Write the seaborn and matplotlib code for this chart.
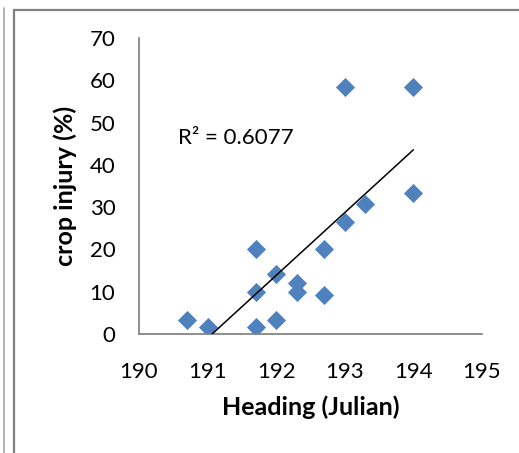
import numpy as np
import pandas as pd
import seaborn as sns
import matplotlib.pyplot as plt
from matplotlib.lines import Line2D

heading = [190.7, 191.0, 191.7, 191.7, 191.7, 192.0, 192.0, 192.3, 192.3,
           192.7, 192.7, 193.0, 193.3, 193.0, 194.0, 194.0]
injury = [3.3, 1.7, 20.0, 10.0, 1.7, 14.3, 3.3, 12.0, 10.0,
          20.0, 9.2, 26.4, 30.7, 58.3, 58.3, 33.3]
x_ticks = [190, 191, 192, 193, 194, 195]
y_ticks = [0, 10, 20, 30, 40, 50, 60, 70]
r2_label = "R² = 0.6077"

df = pd.DataFrame({"heading": heading, "injury": injury})

sns.set_theme(style="white")
plt.rcParams["font.family"] = ["Lato", "DejaVu Sans"]

W, H = 519, 453
fig = plt.figure(figsize=(W / 100, H / 100), dpi=100)
ax = fig.add_axes([139 / W, (H - 334) / H, (482 - 139) / W, (334 - 38) / H])

sns.regplot(data=df, x="heading", y="injury", ax=ax, ci=None, truncate=True,
            marker="D",
            scatter_kws=dict(s=95, color="#4F81BD", edgecolor="#4F81BD", linewidths=0, alpha=1),
            line_kws=dict(color="black", lw=1.1, zorder=5))

ax.set_xlim(190, 195)
ax.set_ylim(0, 70)
ax.set_xticks(x_ticks)
ax.set_yticks(y_ticks)
ax.set_xticklabels([str(t) for t in x_ticks])
ax.set_yticklabels([str(t) for t in y_ticks])
ax.tick_params(axis="both", direction="out", length=6, width=1.2, color="#868686",
               labelsize=16, labelcolor="black")
ax.tick_params(axis="x", pad=14)
ax.tick_params(axis="y", pad=11)
for s in ["top", "right"]:
    ax.spines[s].set_visible(False)
for s in ["left", "bottom"]:
    ax.spines[s].set_color("#868686")
    ax.spines[s].set_linewidth(1.3)
ax.grid(False)

ax.set_xlabel("Heading (Julian)", fontsize=18, fontweight="bold", color="black", labelpad=10)
ax.set_ylabel("crop injury (%)", fontsize=18, fontweight="bold", color="black", labelpad=9)

ax.text(0.114, 0.662, r2_label, transform=ax.transAxes, fontsize=16,
        va="center", ha="left", color="black")

# outer frame lines
fig.add_artist(Line2D([3.5 / W, 3.5 / W], [0, 1 - 8 / H], transform=fig.transFigure,
                      color="#A6A6A6", lw=1.2))
fig.add_artist(Line2D([14 / W, 14 / W], [0, 1 - 9.5 / H], transform=fig.transFigure,
                      color="#808080", lw=1.6))
fig.add_artist(Line2D([13.5 / W, 1], [1 - 9.5 / H, 1 - 9.5 / H], transform=fig.transFigure,
                      color="#808080", lw=1.6))

fig.savefig("out.png", dpi=100)
